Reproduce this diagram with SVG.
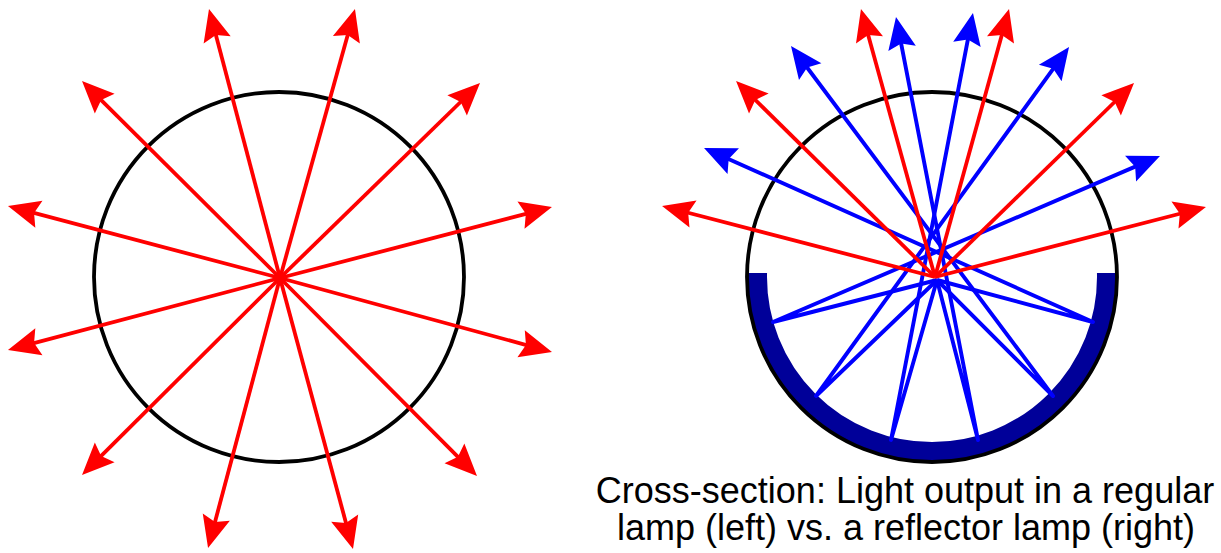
<svg xmlns="http://www.w3.org/2000/svg" width="1221" height="553" viewBox="0 0 1221 553">
  <style>
    .lamp { fill: none; stroke: #000000; stroke-width: 3.8; }
    .red { fill: none; stroke: #ff0000; stroke-width: 3.8; marker-end: url(#head-red); }
    .blue { fill: none; stroke: #0000ff; stroke-width: 3.9; stroke-linejoin: round; marker-end: url(#head-blue); }
    .reflector { fill: none; stroke: #000099; stroke-width: 20; }
    .caption { font-family: "Liberation Sans", Arial, sans-serif; font-size: 36px; fill: #000000; text-anchor: middle; }
  </style>
  <defs>
    <marker id="head-red" viewBox="-13 -15 35 30" refX="0" refY="0" markerWidth="35" markerHeight="30" markerUnits="userSpaceOnUse" orient="auto">
      <path d="M20,0 L-12,-14 L-7,0 L-12,14 Z" fill="#ff0000"/>
    </marker>
    <marker id="head-blue" viewBox="-13 -15 35 30" refX="0" refY="0" markerWidth="35" markerHeight="30" markerUnits="userSpaceOnUse" orient="auto">
      <path d="M20,0 L-12,-14 L-7,0 L-12,14 Z" fill="#0000ff"/>
    </marker>
    <clipPath id="lower-part">
      <rect x="700" y="273" width="460" height="220"/>
    </clipPath>
  </defs>
  <rect width="1221" height="553" fill="#ffffff"/>

  <g id="regular-lamp">
    <circle class="lamp" cx="279" cy="277" r="185"/>
  </g>

  <g id="reflector-lamp">
    <circle class="reflector" cx="932" cy="277" r="175" clip-path="url(#lower-part)"/>
    <circle class="lamp" cx="932" cy="277" r="185"/>
  </g>

  <g id="connectors">
    <g id="regular-rays">
      <line class="red" x1="280" y1="278" x2="214.1" y2="28.3"/>
      <line class="red" x1="280" y1="278" x2="349.6" y2="28.3"/>
      <line class="red" x1="280" y1="278" x2="96.2" y2="95.1"/>
      <line class="red" x1="280" y1="278" x2="465.7" y2="97"/>
      <line class="red" x1="280" y1="278" x2="27.3" y2="211.1"/>
      <line class="red" x1="280" y1="278" x2="532.6" y2="212.1"/>
      <line class="red" x1="280" y1="278" x2="27.3" y2="344.9"/>
      <line class="red" x1="280" y1="278" x2="532.7" y2="346.8"/>
      <line class="red" x1="280" y1="278" x2="96.2" y2="460.9"/>
      <line class="red" x1="280" y1="278" x2="462.9" y2="461.8"/>
      <line class="red" x1="280" y1="278" x2="213.2" y2="528.7"/>
      <line class="red" x1="280" y1="278" x2="347.8" y2="529.7"/>
    </g>
    <g id="reflected-rays">
      <polyline class="blue" points="937,280 773,322 1141.6,163.9"/>
      <polyline class="blue" points="937,280 816,396 1057.3,63.2"/>
      <polyline class="blue" points="937,280 891,440 969.2,32.6"/>
      <polyline class="blue" points="937,280 978,440 899.8,36.6"/>
      <polyline class="blue" points="937,280 1053,396 803,62"/>
      <polyline class="blue" points="937,280 1093,322 722.3,156.2"/>
    </g>
    <g id="direct-rays">
      <line class="red" x1="935" y1="277" x2="681.4" y2="211"/>
      <line class="red" x1="935" y1="277" x2="750.3" y2="95"/>
      <line class="red" x1="935" y1="277" x2="866.3" y2="28.3"/>
      <line class="red" x1="935" y1="277" x2="1003.7" y2="28.3"/>
      <line class="red" x1="935" y1="277" x2="1119.7" y2="97"/>
      <line class="red" x1="935" y1="277" x2="1186.6" y2="212"/>
    </g>
  </g>

  <g id="caption">
    <text class="caption" x="905" y="503">Cross-section: Light output in a regular</text>
    <text class="caption" x="906" y="540">lamp (left) vs. a reflector lamp (right)</text>
  </g>
</svg>
